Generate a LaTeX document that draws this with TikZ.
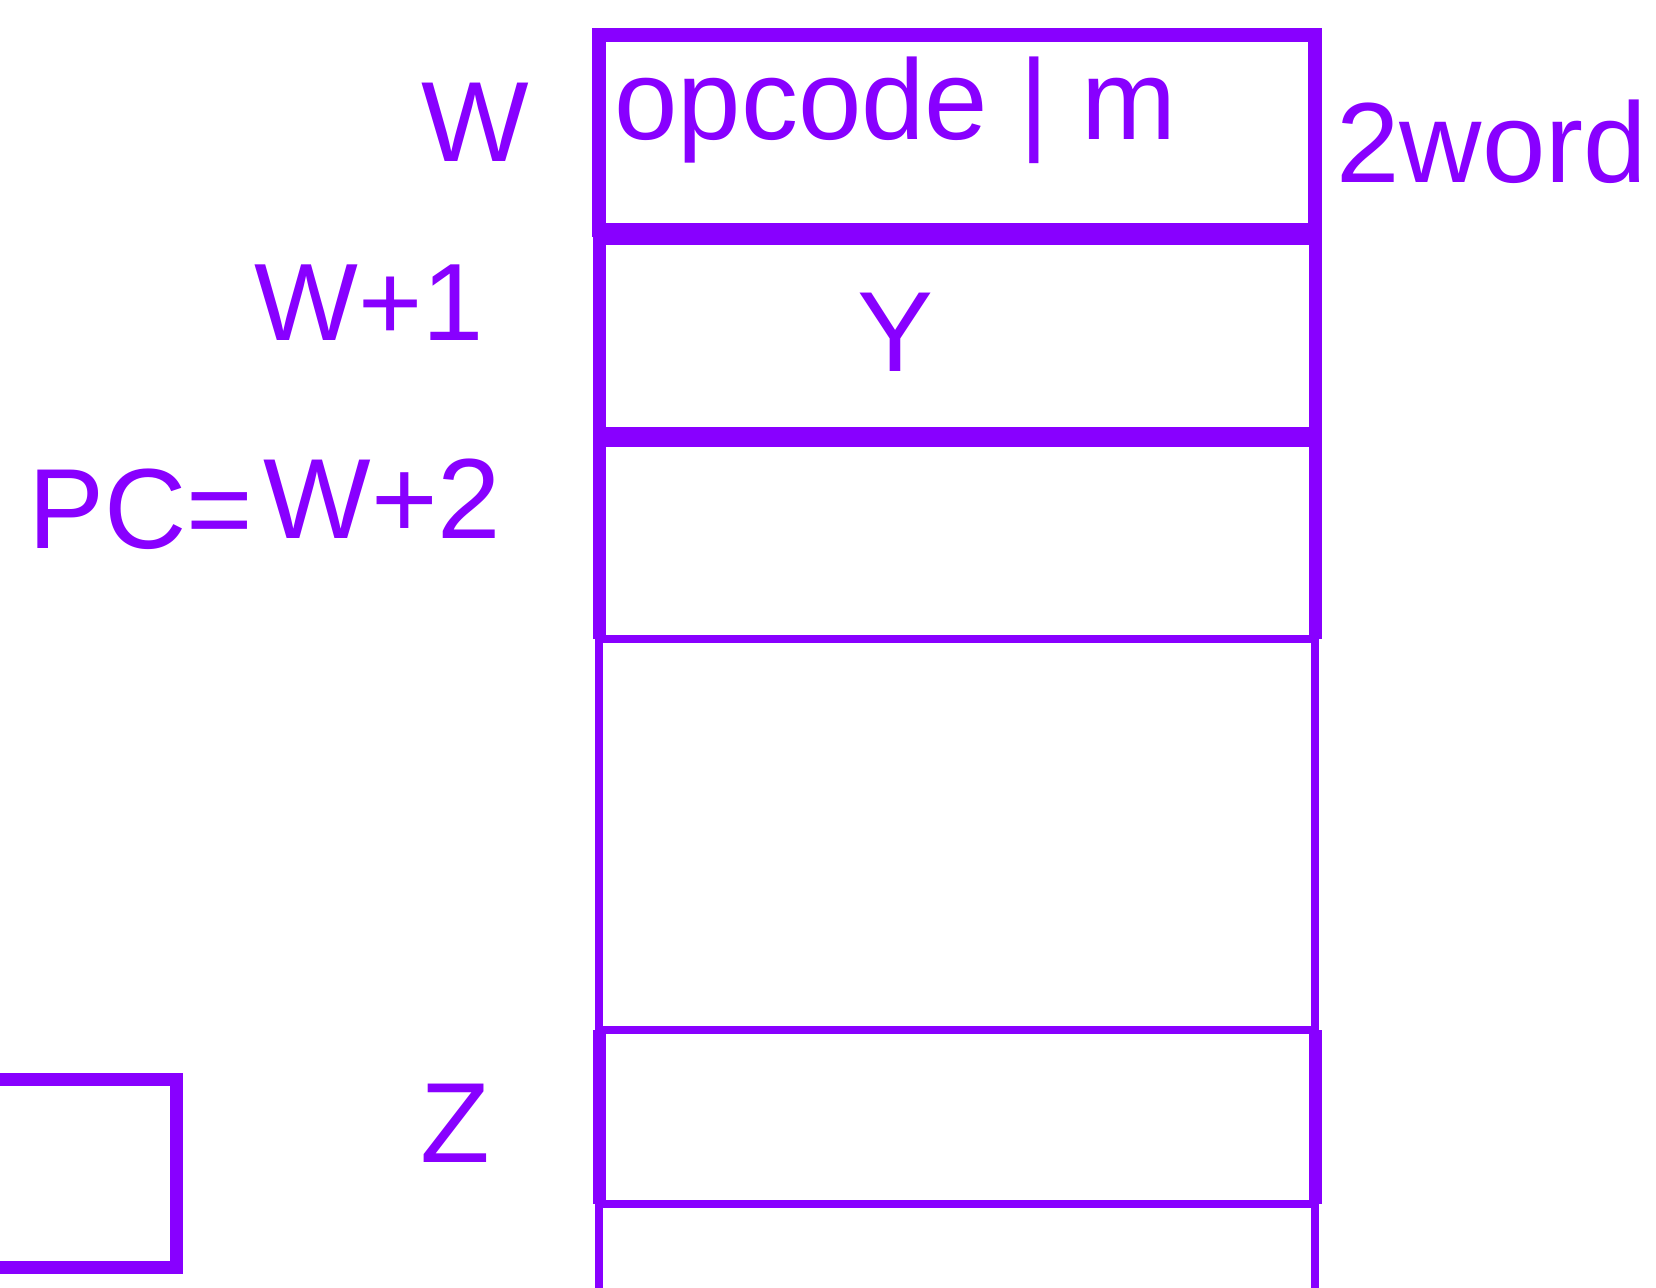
\documentclass[tikz,border=0pt]{standalone}
\usepackage{fontspec}
\setmainfont{Liberation Sans}
\definecolor{vio}{RGB}{136,0,255}
\begin{document}
\begin{tikzpicture}[x=0.5pt,y=-0.5pt,
  thickline/.style={draw=vio,line width=6.5pt},
  thinline/.style={draw=vio,line width=4pt},
  cell/.style={thickline,inner sep=0pt,outer sep=0pt,minimum width=358pt},
  lbl/.style={text=vio,inner sep=0pt,font=\fontsize{57}{60}\selectfont}]
\useasboundingbox (0,0) rectangle (1656,1288);
\clip (0,0) rectangle (1656,1288);
% memory column below the cells
\coordinate (colL) at (599,1310);
\coordinate (colR) at (1315,1310);
\node[cell,line width=7pt,minimum height=97.5pt] (cW) at (957,132.5) {};
\node[cell,minimum height=97.5pt] (cW1) at (957,336) {};
\node[cell,draw=none,minimum height=99pt] (cPC) at (957,540) {};
\node[cell,draw=none,minimum height=87pt] (cZ) at (957,1117) {};
% cell W+2: thick top and sides, thin bottom
\draw[thickline] (cPC.south west) -- (cPC.north west) -- (cPC.north east) -- (cPC.south east);
\draw[thinline] (cPC.south west) -- (colL);
\draw[thinline] (cPC.south east) -- (colR);
\draw[thinline] (cPC.south west) -- (cPC.south east);
% cell Z
\draw[thickline] (cZ.north west) -- (cZ.south west);
\draw[thickline] (cZ.north east) -- (cZ.south east);
\draw[thinline] (cZ.north west) -- (cZ.north east);
\draw[thinline] (cZ.south west) -- (cZ.south east);
% small box bottom left
\node[cell,minimum width=98pt,minimum height=94pt] (sb) at (78,1173) {};
% labels
\node[lbl,anchor=base west] (tW) at (421,162) {W};
\node[lbl,anchor=base west] (tOp) at (614,140) {opcode | m};
\node[lbl,anchor=base west] (t2w) at (1336,183) {2word};
\node[lbl,anchor=base west,font=\fontsize{55}{60}\selectfont] (tW1) at (254,341) {W+1};
\node[lbl,anchor=base] (tY) at (896,372) {Y};
\node[lbl,anchor=base west] (tPC) at (28,549) {PC=};
\node[lbl,anchor=base west] (tW2) at (263,539) {W+2};
\node[lbl,anchor=base west] (tZ) at (420,1162) {Z};
\end{tikzpicture}
\end{document}
